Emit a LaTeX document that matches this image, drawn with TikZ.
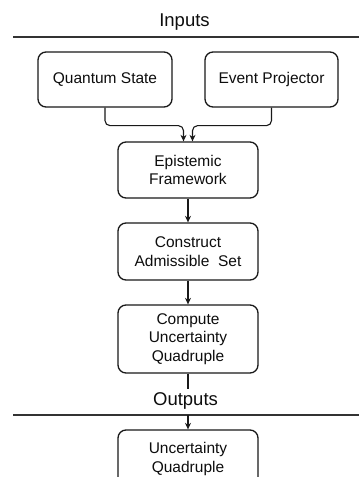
\documentclass[tikz,border=0pt]{standalone}
\usepackage{fontspec}
\setmainfont{Liberation Sans}
\usetikzlibrary{arrows.meta,calc}
\begin{document}
\begin{tikzpicture}[x=1pt,y=-1pt,
  box/.style={draw=black!90,line width=1.3pt,rounded corners=8pt,align=center,
    inner sep=0pt,font=\fontsize{15.5}{18.5}\selectfont,text=black!95},
  conn/.style={draw=black!90,line width=1.1pt},
  arr/.style={conn,-{Stealth[length=6.5pt,width=6pt]}},
  header/.style={font=\fontsize{18.5}{22}\selectfont,text=black!95,inner sep=0pt},
  rule/.style={draw=black!80,line width=1.1pt}]
\useasboundingbox (0,0) rectangle (359,477);
\clip (0,0) rectangle (359,477);
\fill[white] (0,0) rectangle (359,477);
% headers
\node[header] (inputs) at (184.5,22) {Inputs};
\coordinate (inL) at (13,37);
\coordinate (inR) at (359,37);
\draw[rule] (inL) -- (inR);
\node[header] (outputs) at (185.5,401) {Outputs};
\coordinate (outL) at (13,415);
\coordinate (outR) at (359,415);
\draw[rule] (outL) -- (outR);
% boxes
\node[box,minimum width=134pt,minimum height=55pt] (qs) at (105,79.5) {Quantum State};
\node[box,minimum width=133pt,minimum height=55pt] (ep) at (271.5,79.5) {Event Projector};
\node[box,minimum width=140pt,minimum height=56pt] (ef) at (188,170) {Epistemic\\Framework};
\node[box,minimum width=140pt,minimum height=57pt] (cas) at (188,251.5) {Construct\\Admissible\ \ Set};
\node[box,minimum width=140pt,minimum height=68pt] (cuq) at (188,339) {Compute\\Uncertainty\\Quadruple};
\node[box,minimum width=140pt,minimum height=58pt] (uq) at (188,459) {Uncertainty\\Quadruple};
% connectors
\coordinate (efL) at ($(ef.north)+(-4.5,0)$);
\coordinate (efR) at ($(ef.north)+(4.5,0)$);
\coordinate (qsT) at ($(qs.south)+(0,18)$);
\coordinate (epT) at ($(ep.south)+(0,18)$);
\draw[arr,rounded corners=5pt] (qs.south) -- (qsT) -| (efL);
\draw[arr,rounded corners=5pt] (ep.south) -- (epT) -| (efR);
\draw[arr] (ef.south) -- (cas.north);
\draw[arr] (cas.south) -- (cuq.north);
\coordinate (cuqEnd) at (188,389);
\draw[conn] (cuq.south) -- (cuqEnd);
\coordinate (outA) at (188,415);
\draw[arr] (outA) -- (uq.north);
\end{tikzpicture}
\end{document}
